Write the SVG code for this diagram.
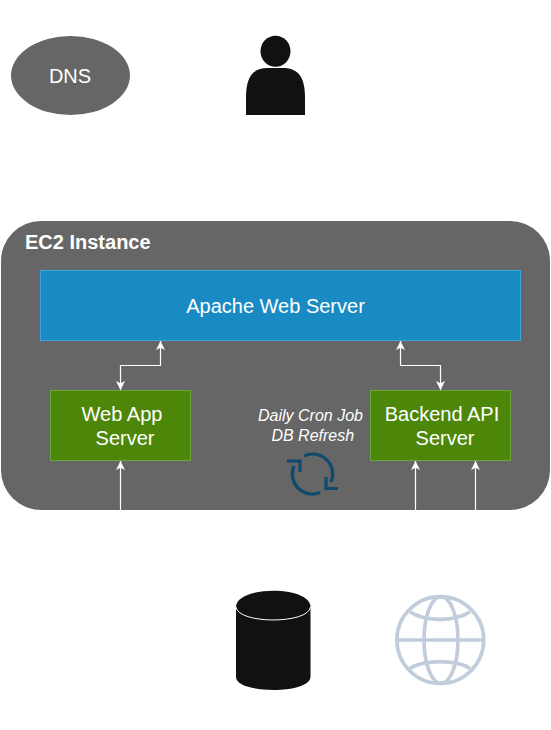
<svg xmlns="http://www.w3.org/2000/svg" width="551" height="730" viewBox="0 0 551 730">
<style>
text{font-family:"Liberation Sans",Arial,sans-serif;fill:#fff;text-anchor:middle}
.t20{font-size:20px}
.green{fill:#4d8709;stroke:#6aa63a;stroke-width:1}
.conn{fill:none;stroke:#fff;stroke-width:1.200}
.globe{fill:none;stroke:#c2cddb;stroke-width:3.700}
.sync{fill:none;stroke:#0f4a6e;stroke-width:3.200}
</style>
<defs>
<marker id="ah" viewBox="0 0 9 9" refX="9" refY="4.500" markerWidth="9" markerHeight="9" orient="auto-start-reverse" markerUnits="userSpaceOnUse"><path d="M9 4.500L0 0L2.250 4.500L0 9Z" fill="#fff"/></marker>
</defs>
<g id="dns"><ellipse cx="70.500" cy="75.500" rx="59.500" ry="39.500" fill="#666"/><text class="t20" x="70" y="83">DNS</text></g>
<g id="user"><ellipse cx="275.500" cy="51.300" rx="15" ry="15.500" fill="#111"/>
<path d="M246 115V98C246 78 252 68 268 68H283C299 68 305 78 305 98V115Z" fill="#111"/></g>
<g id="ec2"><rect x="1" y="221" width="549" height="289" rx="40" ry="40" fill="#666"/><text class="t20" x="25" y="249" font-weight="700" style="text-anchor:start">EC2 Instance</text></g>
<g id="apache"><rect x="40.500" y="270.500" width="480" height="70" fill="#1a8ac4" stroke="#3ba5e0"/><text class="t20" x="275.500" y="312.500">Apache Web Server</text></g>
<g id="webapp"><rect class="green" x="50.500" y="390.500" width="140" height="70"/><text class="t20"><tspan x="122" y="421">Web App</tspan><tspan x="125" y="445">Server</tspan></text></g>
<g id="backend"><rect class="green" x="370.500" y="390.500" width="140" height="70"/><text class="t20"><tspan x="442" y="421">Backend API</tspan><tspan x="445" y="445">Server</tspan></text></g>
<g id="cron"><text font-size="16" font-style="italic"><tspan x="310.500" y="421">Daily Cron Job</tspan><tspan x="312.800" y="441">DB Refresh</tspan></text>
<path class="sync" d="M304 456A20 20 0 0 1 331 482M320 492.500A20 20 0 0 1 294 466"/>
<path class="sync" d="M287 461H300V472M326 477V488.500H338"/></g>
<g id="database"><path d="M236 607C236 585.300 310.500 585.300 310.500 607V676.700C310.500 694.400 236 694.400 236 676.700Z" fill="#111"/><path d="M236 607C238 624.300 308.500 624.300 310.500 607" fill="none" stroke="#fff" stroke-width="1"/></g>
<g id="globe"><circle class="globe" cx="440.300" cy="640" r="43.400"/><ellipse class="globe" cx="441" cy="640" rx="17" ry="43.400"/><path class="globe" d="M397 640H484M410 611.700C425 621.800 455 621.800 470 611.700M410 668.300C425 659.500 455 659.500 470 668.300"/></g>
<g id="connectors">
<path class="conn" marker-start="url(#ah)" marker-end="url(#ah)" d="M120.500 390V365.500H160.500V341"/>
<path class="conn" marker-start="url(#ah)" marker-end="url(#ah)" d="M400.500 341V365.500H440.500V390"/>
<path class="conn" marker-end="url(#ah)" d="M120.500 510V461"/>
<path class="conn" marker-end="url(#ah)" d="M415.500 510V461"/>
<path class="conn" marker-end="url(#ah)" d="M475.500 510V461"/>
</g>
</svg>
